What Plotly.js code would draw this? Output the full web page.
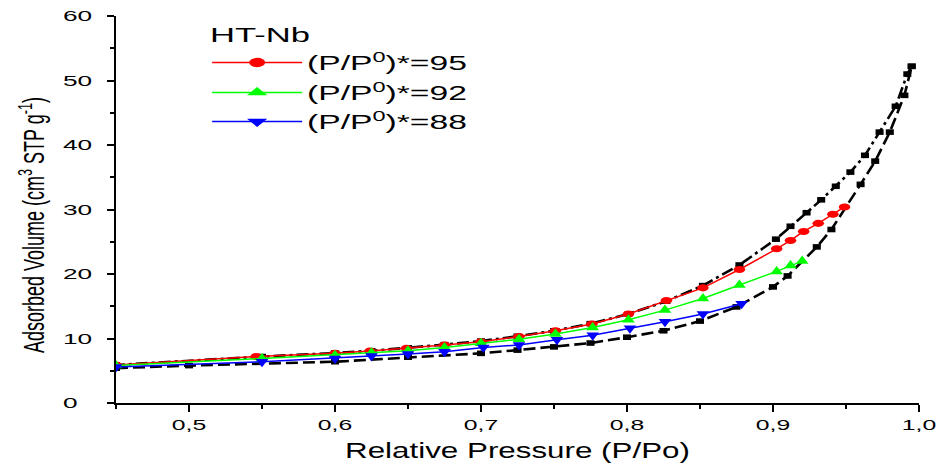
<!DOCTYPE html>
<html>
<head>
<meta charset="utf-8">
<script src="https://cdn.plot.ly/plotly-3.0.1.min.js"></script>
<style>html,body{margin:0;padding:0;background:#fff;}#chart{width:945px;height:463px;}</style>
</head>
<body>
<div id="chart"></div>
<script>
// Black full isotherm: adsorption branch
const adsX = [0.45, 0.5, 0.6, 0.65, 0.7, 0.725, 0.75, 0.775, 0.8, 0.825, 0.85, 0.875, 0.9, 0.91, 0.93, 0.94, 0.96, 0.97, 0.98, 0.99, 0.995];
const adsY = [5.4, 5.8, 6.4, 7.1, 7.7, 8.2, 8.7, 9.3, 10.2, 11.2, 12.7, 14.9, 18.0, 19.7, 24.2, 26.9, 33.9, 37.5, 42.0, 47.7, 52.2];
// Black full isotherm: desorption branch
const desX = [0.995, 0.992, 0.984, 0.973, 0.963, 0.953, 0.943, 0.933, 0.923, 0.912, 0.902, 0.877, 0.852, 0.827, 0.801, 0.775, 0.75, 0.725, 0.70, 0.675, 0.65, 0.625, 0.60, 0.55, 0.45];
const desY = [52.2, 51.0, 46.0, 42.0, 38.4, 35.8, 33.6, 31.5, 29.5, 27.4, 25.4, 21.4, 18.2, 15.8, 13.8, 12.3, 11.2, 10.35, 9.6, 9.05, 8.55, 8.1, 7.75, 7.2, 5.9];
// Scanning curves
const redX = [0.949, 0.941, 0.931, 0.921, 0.912, 0.9025, 0.877, 0.852, 0.827, 0.801, 0.776, 0.751, 0.726, 0.70, 0.675, 0.649, 0.624, 0.60, 0.546, 0.45];
const redY = [30.4, 29.25, 27.85, 26.6, 25.2, 23.9, 20.7, 17.85, 15.9, 13.8, 12.25, 11.2, 10.3, 9.5, 9.0, 8.5, 8.05, 7.7, 7.2, 5.9];
const greenX = [0.92, 0.912, 0.9025, 0.877, 0.852, 0.826, 0.801, 0.7765, 0.751, 0.726, 0.70, 0.675, 0.65, 0.625, 0.60, 0.55, 0.45];
const greenY = [22.0, 21.3, 20.4, 18.3, 16.2, 14.4, 12.9, 11.7, 10.7, 9.9, 9.25, 8.6, 8.1, 7.8, 7.4, 6.9, 5.8];
const blueX = [0.8785, 0.852, 0.826, 0.802, 0.7765, 0.752, 0.726, 0.7016, 0.675, 0.65, 0.625, 0.60, 0.55, 0.45];
const blueY = [15.4, 13.8, 12.6, 11.6, 10.5, 9.8, 9.0, 8.6, 7.95, 7.6, 7.3, 6.9, 6.4, 5.6];
const seriesNames = ['(P/P<sup>0</sup>)*=95', '(P/P<sup>0</sup>)*=92', '(P/P<sup>0</sup>)*=88'];
const legendTitle = 'HT-Nb';
const xTitle = 'Relative Pressure (P/Po)';
const yTitle = 'Adsorbed Volume (cm<sup>3</sup> STP g<sup>-1</sup>)';

const F = 'Liberation Sans, Arial, Helvetica, sans-serif';
const traces = [
  {x: adsX, y: adsY, mode: 'lines+markers', showlegend: false,
   line: {color: '#000', width: 2.6, dash: '12px,5px'},
   marker: {symbol: 'square', size: 7, color: '#000'}},
  {x: desX, y: desY, mode: 'lines+markers', showlegend: false,
   line: {color: '#000', width: 2.6, dash: '12px,4px,3px,4px'},
   marker: {symbol: 'square', size: 7, color: '#000'}},
  {x: redX, y: redY, name: seriesNames[0], mode: 'lines+markers',
   line: {color: '#ff0000', width: 1.5}, marker: {symbol: 'circle', size: 8, color: '#ff0000'}},
  {x: greenX, y: greenY, name: seriesNames[1], mode: 'lines+markers',
   line: {color: '#00ff00', width: 1.5}, marker: {symbol: 'triangle-up', size: 11, color: '#00ff00'}},
  {x: blueX, y: blueY, name: seriesNames[2], mode: 'lines+markers',
   line: {color: '#0000ff', width: 1.5}, marker: {symbol: 'triangle-down', size: 11, color: '#0000ff'}}
];
const layout = {
  width: 945, height: 463,
  margin: {l: 116, r: 26, t: 16, b: 60},
  paper_bgcolor: '#fff', plot_bgcolor: '#fff',
  separators: ', ',
  font: {family: F, color: '#000', size: 15},
  showlegend: true,
  legend: {x: 0.1135, y: 1.0, xanchor: 'left', yanchor: 'top', bgcolor: 'rgba(0,0,0,0)',
    font: {family: F, size: 20, color: '#000'}, itemwidth: 90,
    title: {text: legendTitle, font: {family: F, size: 20, color: '#000'}}, tracegroupgap: 0},
  xaxis: {range: [0.45, 1.0], dtick: 0.1, tick0: 0.5, tickformat: '.1f', showgrid: false, zeroline: false,
    showline: true, linecolor: '#000', linewidth: 2, ticks: 'outside', ticklen: 7, tickwidth: 2, tickcolor: '#000',
    minor: {dtick: 0.05, tick0: 0.45, ticks: 'outside', ticklen: 4, tickwidth: 2, tickcolor: '#000'},
    tickfont: {family: F, size: 15}, automargin: false,
    title: {text: xTitle, font: {family: F, size: 22}, standoff: 8}},
  yaxis: {range: [0, 60], dtick: 10, showgrid: false, zeroline: false,
    showline: true, linecolor: '#000', linewidth: 2, ticks: 'outside', ticklen: 7, tickwidth: 2, tickcolor: '#000',
    minor: {dtick: 5, ticks: 'outside', ticklen: 4, tickwidth: 2, tickcolor: '#000'},
    tickfont: {family: F, size: 15}, automargin: false,
    title: {text: yTitle, font: {family: F, size: 18}, standoff: 30}}
};

// Horizontal text stretch to mimic the reference's wide lettering
function fit(el, o) {
  const r = el.getBoundingClientRect();
  if (!r.width) return;
  const s = o.s !== undefined ? o.s : o.w / r.width;
  const w = r.width * s;
  let left;
  if (o.left !== undefined) left = o.left;
  else if (o.cx !== undefined) left = o.cx - w / 2;
  else left = r.left + (r.width - w) / 2;
  const m = el.parentNode.getScreenCTM();
  const e = m.e;
  const X = (left - e) - s * (r.left - e);
  const Y = o.cy !== undefined ? o.cy - (r.top + r.height / 2) : 0;
  const old = el.getAttribute('transform') || '';
  el.setAttribute('transform', 'translate(' + X + ',' + Y + ') scale(' + s + ',1) ' + old);
}
function scalePts(nodes, sx, sy) {
  nodes.forEach(function (p) {
    const old = p.getAttribute('transform') || '';
    p.setAttribute('transform', old + ' scale(' + sx + ',' + sy + ')');
  });
}

Plotly.newPlot('chart', traces, layout, {displayModeBar: false, staticPlot: true}).then(function (gd) {
  // legend: no clipping, rows spaced like the reference
  gd.querySelectorAll('.legend [clip-path]').forEach(function (n) { n.removeAttribute('clip-path'); });
  const lg = gd.querySelectorAll('.legend .traces');
  const dy = [1, 2, 2];
  lg.forEach(function (g, i) {
    const old = g.getAttribute('transform') || '';
    g.setAttribute('transform', 'translate(0,' + (dy[i] || 0) + ') ' + old);
  });
  // tick labels
  gd.querySelectorAll('.xtick text').forEach(function (t) { fit(t, {s: 1.65}); });
  gd.querySelectorAll('.ytick text').forEach(function (t) { fit(t, {s: 1.75, left: 63}); });
  // titles
  const xtt = gd.querySelector('.xtitle');
  if (xtt) fit(xtt, {left: 345, w: 345, cy: 451});
  const ytt = gd.querySelector('.ytitle');
  if (ytt) fit(ytt, {s: 1.6, cx: 32, cy: 225});
  // legend texts
  const lt = gd.querySelector('.legendtitletext');
  if (lt) fit(lt, {left: 210, w: 100});
  gd.querySelectorAll('.legendtext').forEach(function (t) { fit(t, {left: 307, w: 160}); });
  // marker shapes (stretched like reference)
  const tr = gd.querySelectorAll('.scatterlayer .trace');
  const sc = [[1.15, 0.8], [1.15, 0.8], [1.45, 0.88], [1.0, 1.0], [1.0, 1.0]];
  tr.forEach(function (g, i) { if (sc[i]) scalePts(g.querySelectorAll('path.point'), sc[i][0], sc[i][1]); });
  const lsc = [[2.0, 1.16], [1.6, 1.0], [1.6, 1.0]];
  lg.forEach(function (g, i) { if (lsc[i]) scalePts(g.querySelectorAll('path.scatterpts'), lsc[i][0], lsc[i][1]); });
});
</script>
</body>
</html>
